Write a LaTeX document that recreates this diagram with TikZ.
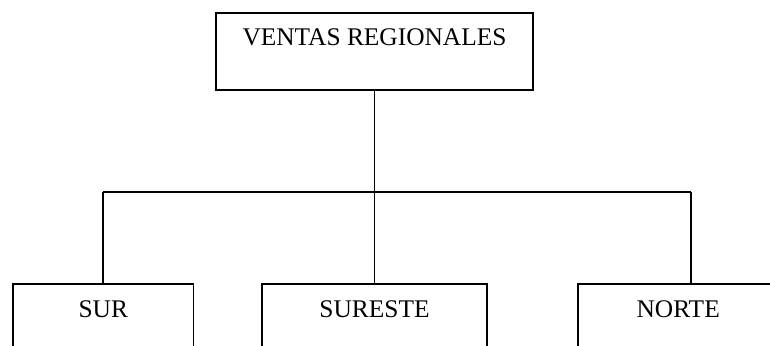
\documentclass[tikz,border=0pt]{standalone}
\usepackage{fontspec}
\setmainfont{Liberation Serif}
\begin{document}
\begin{tikzpicture}[x=1pt,y=-1pt,
  box/.style={draw, line width=1.7pt, rectangle, anchor=north, inner xsep=0pt, inner ysep=0pt,
    font=\fontsize{25.4}{30}\selectfont, text height=33pt},
  conn/.style={line width=1.7pt}]
\useasboundingbox (0,0) rectangle (770,345);
\clip (0,0) rectangle (770,345);
\node[box, minimum width=317pt, text depth=44pt] (top) at (374.5,12) {VENTAS REGIONALES};
\node[box, minimum width=180.6pt, text depth=100pt] (sur) at (103.3,283.3) {SUR};
\node[box, minimum width=225.6pt, text depth=100pt] (sureste) at (374.5,283.3) {SURESTE};
\node[box, minimum width=201pt, text depth=100pt] (norte) at (678.2,283.3) {NORTE};
\coordinate (j) at (374.5,192.3);
\coordinate (jl) at (sur.north |- j);
\coordinate (jr) at (690.8,192.3);
\draw[conn] (top.south) -- (j);
\draw[conn] (jl) -- (jr);
\draw[conn] (jl) -- (sur.north);
\draw[conn] (j) -- (sureste.north);
\draw[conn] (jr) -- (jr |- norte.north);
\end{tikzpicture}
\end{document}
